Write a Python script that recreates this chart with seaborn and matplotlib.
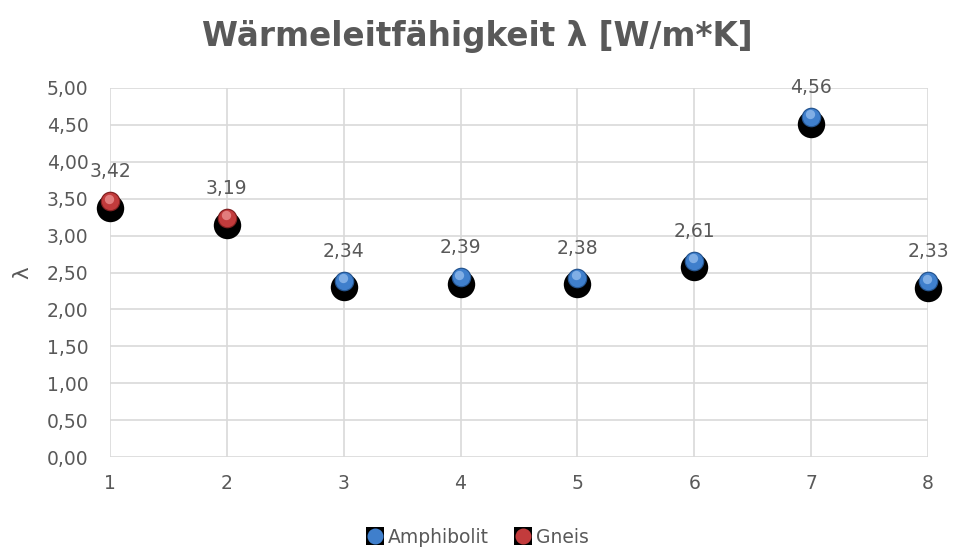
import numpy as np
import pandas as pd
import seaborn as sns
import matplotlib
matplotlib.use("Agg")
import matplotlib.pyplot as plt
import matplotlib.transforms as mtransforms
from matplotlib.ticker import FuncFormatter, MultipleLocator
from matplotlib.lines import Line2D
from matplotlib.legend_handler import HandlerTuple

# Messwerte der Wärmeleitfähigkeit je Probe
proben = [1, 2, 3, 4, 5, 6, 7, 8]
werte = [3.42, 3.19, 2.34, 2.39, 2.38, 2.61, 4.56, 2.33]
gestein = ["Gneis", "Gneis", "Amphibolit", "Amphibolit", "Amphibolit",
           "Amphibolit", "Amphibolit", "Amphibolit"]
reihen = ["Amphibolit", "Gneis"]
titel = "Wärmeleitfähigkeit λ [W/m*K]"
y_titel = "λ"

df = pd.DataFrame({"Probe": proben, "Lambda": werte, "Gestein": gestein})

sns.set_theme(style="whitegrid")
plt.rcParams["font.family"] = ["DejaVu Sans"]
grau = "#595959"
fs = 13.5

farben = {"Amphibolit": "#3f7fcc", "Gneis": "#c23b3c"}
hell = {"Amphibolit": "#9cc3f0", "Gneis": "#f09a9a"}
dunkel = {"Amphibolit": "#24548f", "Gneis": "#801f20"}

fig = plt.figure(figsize=(9.54, 5.52), dpi=100)
ax = fig.add_axes([0.1153, 0.172, 0.8574, 0.6686])

# Schatten unter den Punkten
schatten = mtransforms.offset_copy(ax.transData, fig=fig, x=0, y=-2.2, units="points")
ax.scatter(df["Probe"], df["Lambda"], s=390, color="black", transform=schatten,
           zorder=3, linewidths=0, clip_on=False)

# Kugeln mit einfacher Schattierung
kugel = mtransforms.offset_copy(ax.transData, fig=fig, x=0, y=2.6, units="points")
for r in reihen:
    sub = df[df["Gestein"] == r]
    ax.scatter(sub["Probe"], sub["Lambda"], s=200, color=dunkel[r], transform=kugel,
               zorder=4, linewidths=0, clip_on=False)
    ax.scatter(sub["Probe"], sub["Lambda"], s=155, color=farben[r], transform=kugel,
               zorder=5, linewidths=0, clip_on=False)
licht = mtransforms.offset_copy(ax.transData, fig=fig, x=-0.8, y=4.4, units="points")
for r in reihen:
    sub = df[df["Gestein"] == r]
    ax.scatter(sub["Probe"], sub["Lambda"], s=45, color=hell[r], transform=licht,
               zorder=6, linewidths=0, alpha=0.7, clip_on=False)

# Datenbeschriftungen
for x, y in zip(proben, werte):
    ax.annotate(f"{y:.2f}".replace(".", ","), (x, y), xytext=(0, 20),
                textcoords="offset points", ha="center", va="baseline",
                fontsize=fs, color=grau, zorder=7)

sns.despine(ax=ax, left=True, bottom=True, top=True, right=True)
ax.set_xlim(1, 8)
ax.set_ylim(0, 5)
ax.xaxis.set_major_locator(MultipleLocator(1))
ax.yaxis.set_major_locator(MultipleLocator(0.5))
ax.yaxis.set_major_formatter(FuncFormatter(lambda v, p: f"{v:.2f}".replace(".", ",")))
ax.grid(True, color="#d9d9d9", linewidth=1.2)
ax.tick_params(axis="both", length=0, labelsize=fs, labelcolor=grau)
ax.tick_params(axis="y", pad=15.5)
ax.tick_params(axis="x", pad=12)
ax.set_xlabel("")
ax.set_ylabel(y_titel, fontsize=fs + 2, color=grau, labelpad=10)

fig.text(0.5, 0.933, titel, ha="center", va="center", fontsize=23.5,
         fontweight="bold", color=grau)

# Legende
griffe = []
for r in reihen:
    quadrat = Line2D([0], [0], marker="s", linestyle="", markersize=13.5,
                     markerfacecolor="black", markeredgewidth=0)
    ball = Line2D([0], [0], marker="o", linestyle="", markersize=11.5,
                  markerfacecolor=farben[r], markeredgewidth=0)
    griffe.append((quadrat, ball))
leg = fig.legend(handles=griffe, labels=reihen, loc="center",
                 bbox_to_anchor=(0.5, 0.027), ncol=2, frameon=False, fontsize=fs,
                 handletextpad=0.2, columnspacing=1.3, handlelength=1.0,
                 handler_map={tuple: HandlerTuple(ndivide=1, pad=0)})
for t in leg.get_texts():
    t.set_color(grau)

fig.savefig("out.png", dpi=100)
